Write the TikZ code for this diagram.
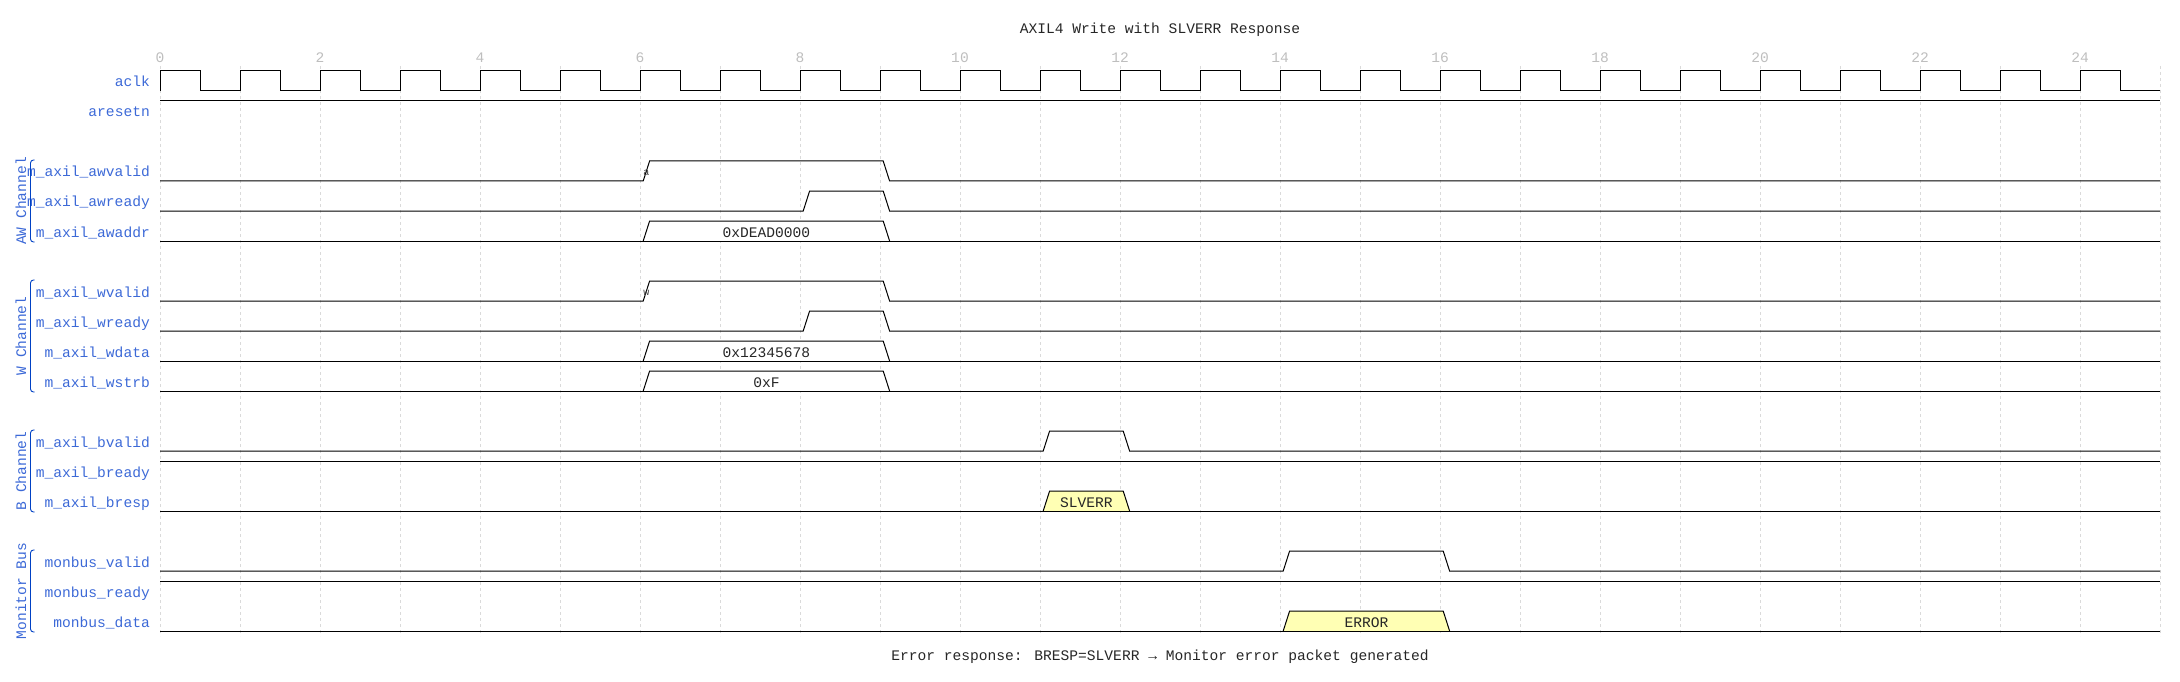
\documentclass[tikz,border=0pt]{standalone}
\usepackage{fontspec}
\newfontfamily\wavefont{Liberation Mono}
\definecolor{nomeblu}{RGB}{60,105,215}
\definecolor{graffablu}{RGB}{0,65,196}
\definecolor{taccagrigio}{RGB}{190,190,190}
\definecolor{grigliagrigio}{RGB}{218,218,218}
\definecolor{datogiallo}{RGB}{255,255,180}

%% impulso: y basso, t salita, t discesa
\newcommand{\impulso}[3]{%
  \draw[segnale] (0,#1) -- ({#2+0.04},#1) -- ({#2+0.12},{#1-20}) -- ({#3+0.04},{#1-20}) -- ({#3+0.12},#1) -- (25,#1);}
%% bus: y basso, t1, t2, riempimento, testo, nome
\newcommand{\bus}[6]{%
  \draw[segnale, fill=#4] ({#2+0.04},#1) -- ({#2+0.12},{#1-20}) -- ({#3+0.04},{#1-20}) -- ({#3+0.12},#1);
  \draw[segnale] (0,#1) -- (25,#1);
  \node[valore] (#6) at ({(#2+#3)/2+0.08},{#1-4}) {#5};}

\begin{document}
\begin{tikzpicture}[x=1pt, y=-1pt,
    segnale/.style={line width=1pt, black},
    griglia/.style={line width=0.6pt, grigliagrigio, dash pattern=on 3pt off 3pt},
    testo/.style={font=\wavefont\fontsize{14.6}{16}\selectfont, inner sep=0pt},
    nome/.style={testo, anchor=base east, text=nomeblu},
    gruppo/.style={testo, text=nomeblu, rotate=90},
    valore/.style={testo, anchor=base, text=black!85},
    tacca/.style={testo, anchor=base, text=taccagrigio},
    titolo/.style={testo, anchor=base, text=black!85},
    nodino/.style={font=\wavefont\fontsize{10}{11}\selectfont, inner sep=0pt, text=black!75},
    graffa/.style={line width=0.9pt, graffablu, rounded corners=3pt}]
  \useasboundingbox (0,0) rectangle (2180,682);

  %% titolo e nota
  \node[titolo] (titolo) at (1160,34) {AXIL4 Write with SLVERR Response};
  \node[titolo] (nota) at (1160,660) {Error response: BRESP=SLVERR → Monitor error packet generated};

  %% nomi dei segnali
  \foreach \id/\txt/\yy in {aclk/aclk/82, aresetn/aresetn/112,
      awvalid/m\_axil\_awvalid/172, awready/m\_axil\_awready/202, awaddr/m\_axil\_awaddr/232,
      wvalid/m\_axil\_wvalid/292, wready/m\_axil\_wready/322, wdata/m\_axil\_wdata/352, wstrb/m\_axil\_wstrb/382,
      bvalid/m\_axil\_bvalid/442, bready/m\_axil\_bready/472, bresp/m\_axil\_bresp/502,
      mvalid/monbus\_valid/562, mready/monbus\_ready/592, mdata/monbus\_data/622}
    \node[nome] (n-\id) at (150,\yy+5) {\txt};

  %% gruppi con graffa
  \foreach \id/\txt/\ya/\yb in {aw/AW Channel/160/242, w/W Channel/280/392,
      b/B Channel/430/512, mon/Monitor Bus/550/632} {
    \draw[graffa] (34.5,\ya) -- (30.5,\ya) -- (30.5,\yb) -- (34.5,\yb);
    \node[gruppo] (g-\id) at (21,{(\ya+\yb)/2}) {\txt};
  }

  \begin{scope}[xshift=160pt, x=80pt]
    %% griglia e tacche
    \foreach \i in {0,...,25}
      \draw[griglia] (\i,66) -- (\i,636);
    \foreach \i in {0,2,...,24}
      \node[tacca] (t\i) at (\i,63) {\i};

    %% clock e reset
    \foreach \i in {0,...,24}
      \draw[segnale] (\i,91) -- (\i,71) -- (\i+0.5,71) -- (\i+0.5,91) -- (\i+1,91);
    \draw[segnale] (0,101) -- (25,101);

    %% canale AW
    \impulso{181}{6}{9}
    \impulso{211}{8}{9}
    \bus{241}{6}{9}{white}{0xDEAD0000}{v-awaddr}
    \node[nodino] (m-a) at (6.08,172.5) {a};

    %% canale W
    \impulso{301}{6}{9}
    \impulso{331}{8}{9}
    \bus{361}{6}{9}{white}{0x12345678}{v-wdata}
    \bus{391}{6}{9}{white}{0xF}{v-wstrb}
    \node[nodino] (m-w) at (6.08,292.5) {w};

    %% canale B
    \impulso{451}{11}{12}
    \draw[segnale] (0,461) -- (25,461);
    \bus{511}{11}{12}{datogiallo}{SLVERR}{v-bresp}

    %% monitor bus
    \impulso{571}{14}{16}
    \draw[segnale] (0,581) -- (25,581);
    \bus{631}{14}{16}{datogiallo}{ERROR}{v-mdata}
  \end{scope}
\end{tikzpicture}
\end{document}
